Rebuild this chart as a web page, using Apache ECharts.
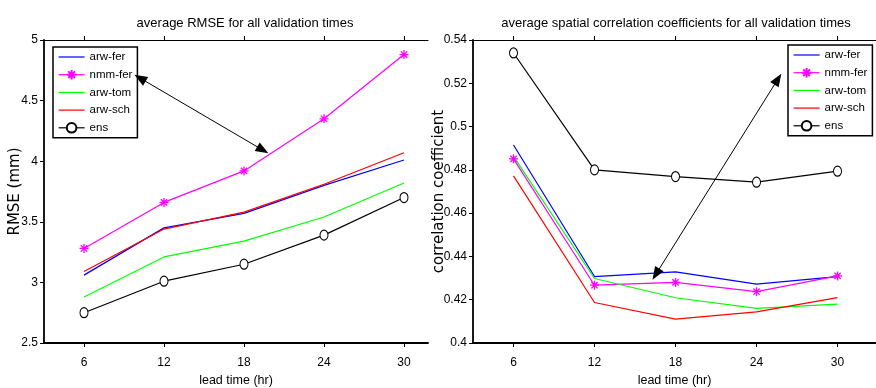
<!DOCTYPE html>
<html><head><meta charset="utf-8">
<script src="https://cdn.jsdelivr.net/npm/echarts@6/dist/echarts.min.js"></script>
<style>html,body{margin:0;padding:0;background:#fff}#c{width:876px;height:388px}</style>
</head><body><div id="c"></div>
<script>
var leadTimes = [6, 12, 18, 24, 30];
var seriesNames = ['arw-fer', 'nmm-fer', 'arw-tom', 'arw-sch', 'ens'];
var seriesColors = ['#0000ff', '#ff00ff', '#00ff00', '#ff0000', '#000000'];
// RMSE (mm)
var rmseArwFer = [3.06, 3.45, 3.57, 3.80, 4.01];
var rmseNmmFer = [3.28, 3.66, 3.92, 4.35, 4.88];
var rmseArwTom = [2.88, 3.21, 3.34, 3.54, 3.82];
var rmseArwSch = [3.09, 3.44, 3.58, 3.81, 4.07];
var rmseEns    = [2.75, 3.01, 3.15, 3.39, 3.70];
// spatial correlation coefficient
var corrArwFer = [0.4915, 0.4307, 0.4329, 0.4272, 0.4307];
var corrNmmFer = [0.4851, 0.4267, 0.4280, 0.4237, 0.4310];
var corrArwTom = [0.4862, 0.4298, 0.4209, 0.4160, 0.4180];
var corrArwSch = [0.4772, 0.4187, 0.4110, 0.4144, 0.4210];
var corrEns    = [0.5340, 0.4800, 0.4769, 0.4743, 0.4794];
// annotation arrows (data coordinates)
var rmseArrow = [[10.2, 4.686], [19.41, 4.092]];
var corrArrow = [[16.55, 0.4318], [25.58, 0.5219]];

var FONT = '"Liberation Sans Narrow", "Liberation Sans", Arial, sans-serif';
var WIDE = '"DejaVu Sans", "Liberation Sans", sans-serif';
var STAR = 'path://M0,-10L0,10M-10,0L10,0M-7,-7L7,7M-7,7L7,-7';
var LINE_ICON = 'path://M0,0H28V1.3H0Z';

function pairs(ys) { return leadTimes.map(function (x, i) { return [x, ys[i]]; }); }

function mkSeries(gridIdx, arrays) {
  return arrays.map(function (arr, i) {
    var s = {
      name: seriesNames[i], type: 'line', xAxisIndex: gridIdx * 2, yAxisIndex: gridIdx,
      data: pairs(arr), color: seriesColors[i],
      lineStyle: { width: 1.2, color: seriesColors[i] },
      symbol: 'none', animation: false, z: 3
    };
    if (i === 1) {
      s.symbol = STAR; s.symbolSize = 9;
      s.itemStyle = { color: seriesColors[i], borderColor: seriesColors[i], borderWidth: 1.3 };
    } else if (i === 4) {
      s.symbol = 'circle'; s.symbolSize = [8, 10];
      s.itemStyle = { color: '#fff', borderColor: '#000', borderWidth: 1.1 };
    }
    return s;
  });
}
function arrowSeries(gridIdx, pts) {
  return {
    name: 'arrow' + gridIdx, type: 'line', xAxisIndex: gridIdx * 2, yAxisIndex: gridIdx, data: [],
    animation: false,
    markLine: {
      silent: true, animation: false, symbol: ['triangle', 'triangle'], symbolSize: [10, 13],
      lineStyle: { color: '#000', width: 1, type: 'solid' }, label: { show: false },
      itemStyle: { color: '#000' },
      data: [[{ coord: pts[0] }, { coord: pts[1] }]]
    }
  };
}
function xAx(gridIdx, max, top) {
  return {
    type: 'value', gridIndex: gridIdx, min: 3, max: max, position: top ? 'top' : 'bottom',
    name: top ? '' : 'lead time (hr)', nameLocation: 'middle', nameGap: 31, nameMoveOverlap: false,
    nameTextStyle: { fontFamily: FONT, fontSize: 12.5, color: '#000' },
    axisLine: { show: true, onZero: false, lineStyle: { color: '#000', width: top ? 1.2 : 1.8 } },
    axisTick: { show: true, length: 4, customValues: leadTimes, lineStyle: { color: '#000', width: 1 } },
    axisLabel: { show: !top, customValues: leadTimes, fontFamily: FONT, fontSize: 12, color: '#000', margin: 14 },
    splitLine: { show: false }
  };
}
function yAx(gridIdx, min, max, interval, name) {
  return {
    type: 'value', gridIndex: gridIdx, min: min, max: max, interval: interval,
    name: name, nameLocation: 'middle', nameGap: gridIdx === 0 ? 21.5 : 26, nameMoveOverlap: false,
    nameTextStyle: { fontFamily: WIDE, fontSize: 15, color: '#000' },
    axisLine: { show: true, onZero: false, lineStyle: { color: '#000', width: 1.8 } },
    axisTick: { show: true, length: 4, lineStyle: { color: '#000', width: 1 } },
    axisLabel: { fontFamily: FONT, fontSize: 12, color: '#000', margin: 6,
      formatter: function (v) { return String(+v.toFixed(4)); } },
    splitLine: { show: false }
  };
}
function legendAt(left, top) {
  return {
    data: seriesNames.map(function (n, i) {
      return (i === 1 || i === 4) ? { name: n } : { name: n, icon: LINE_ICON };
    }),
    orient: 'vertical', left: left, top: top,
    backgroundColor: '#fff', borderColor: '#000', borderWidth: 1.5, borderRadius: 0,
    padding: [4, 5, 4, 5], itemGap: 5.7, itemWidth: 26, itemHeight: 12,
    textStyle: { fontFamily: FONT, fontSize: 11.5, color: '#000' },
    lineStyle: { width: 1.2 },
    selectedMode: false
  };
}

var chart = echarts.init(document.getElementById('c'), null, { renderer: 'canvas' });
chart.setOption({
  backgroundColor: '#fff',
  animation: false,
  title: [
    { text: 'average RMSE for all validation times', left: 240, top: 12, textAlign: 'center',
      textStyle: { fontFamily: FONT, fontSize: 13, fontWeight: 'normal', color: '#000' } },
    { text: 'average spatial correlation coefficients for all validation times', left: 671, top: 12, textAlign: 'center',
      textStyle: { fontFamily: FONT, fontSize: 13, fontWeight: 'normal', color: '#000' } }
  ],
  legend: [legendAt(53, 47), legendAt(788, 45)],
  grid: [
    { left: 44, top: 40, width: 384, height: 303, outerBoundsMode: 'none', containLabel: false },
    { left: 473, top: 40, width: 403, height: 303, outerBoundsMode: 'none', containLabel: false }
  ],
  xAxis: [xAx(0, 31.8, false), xAx(0, 31.8, true), xAx(1, 32.85, false), xAx(1, 32.85, true)],
  yAxis: [yAx(0, 2.5, 5, 0.5, 'RMSE (mm)'), yAx(1, 0.4, 0.54, 0.02, 'correlation coefficient')],
  series: [].concat(
    mkSeries(0, [rmseArwFer, rmseNmmFer, rmseArwTom, rmseArwSch, rmseEns]),
    [arrowSeries(0, rmseArrow)],
    mkSeries(1, [corrArwFer, corrNmmFer, corrArwTom, corrArwSch, corrEns]),
    [arrowSeries(1, corrArrow)]
  )
});
</script></body></html>
